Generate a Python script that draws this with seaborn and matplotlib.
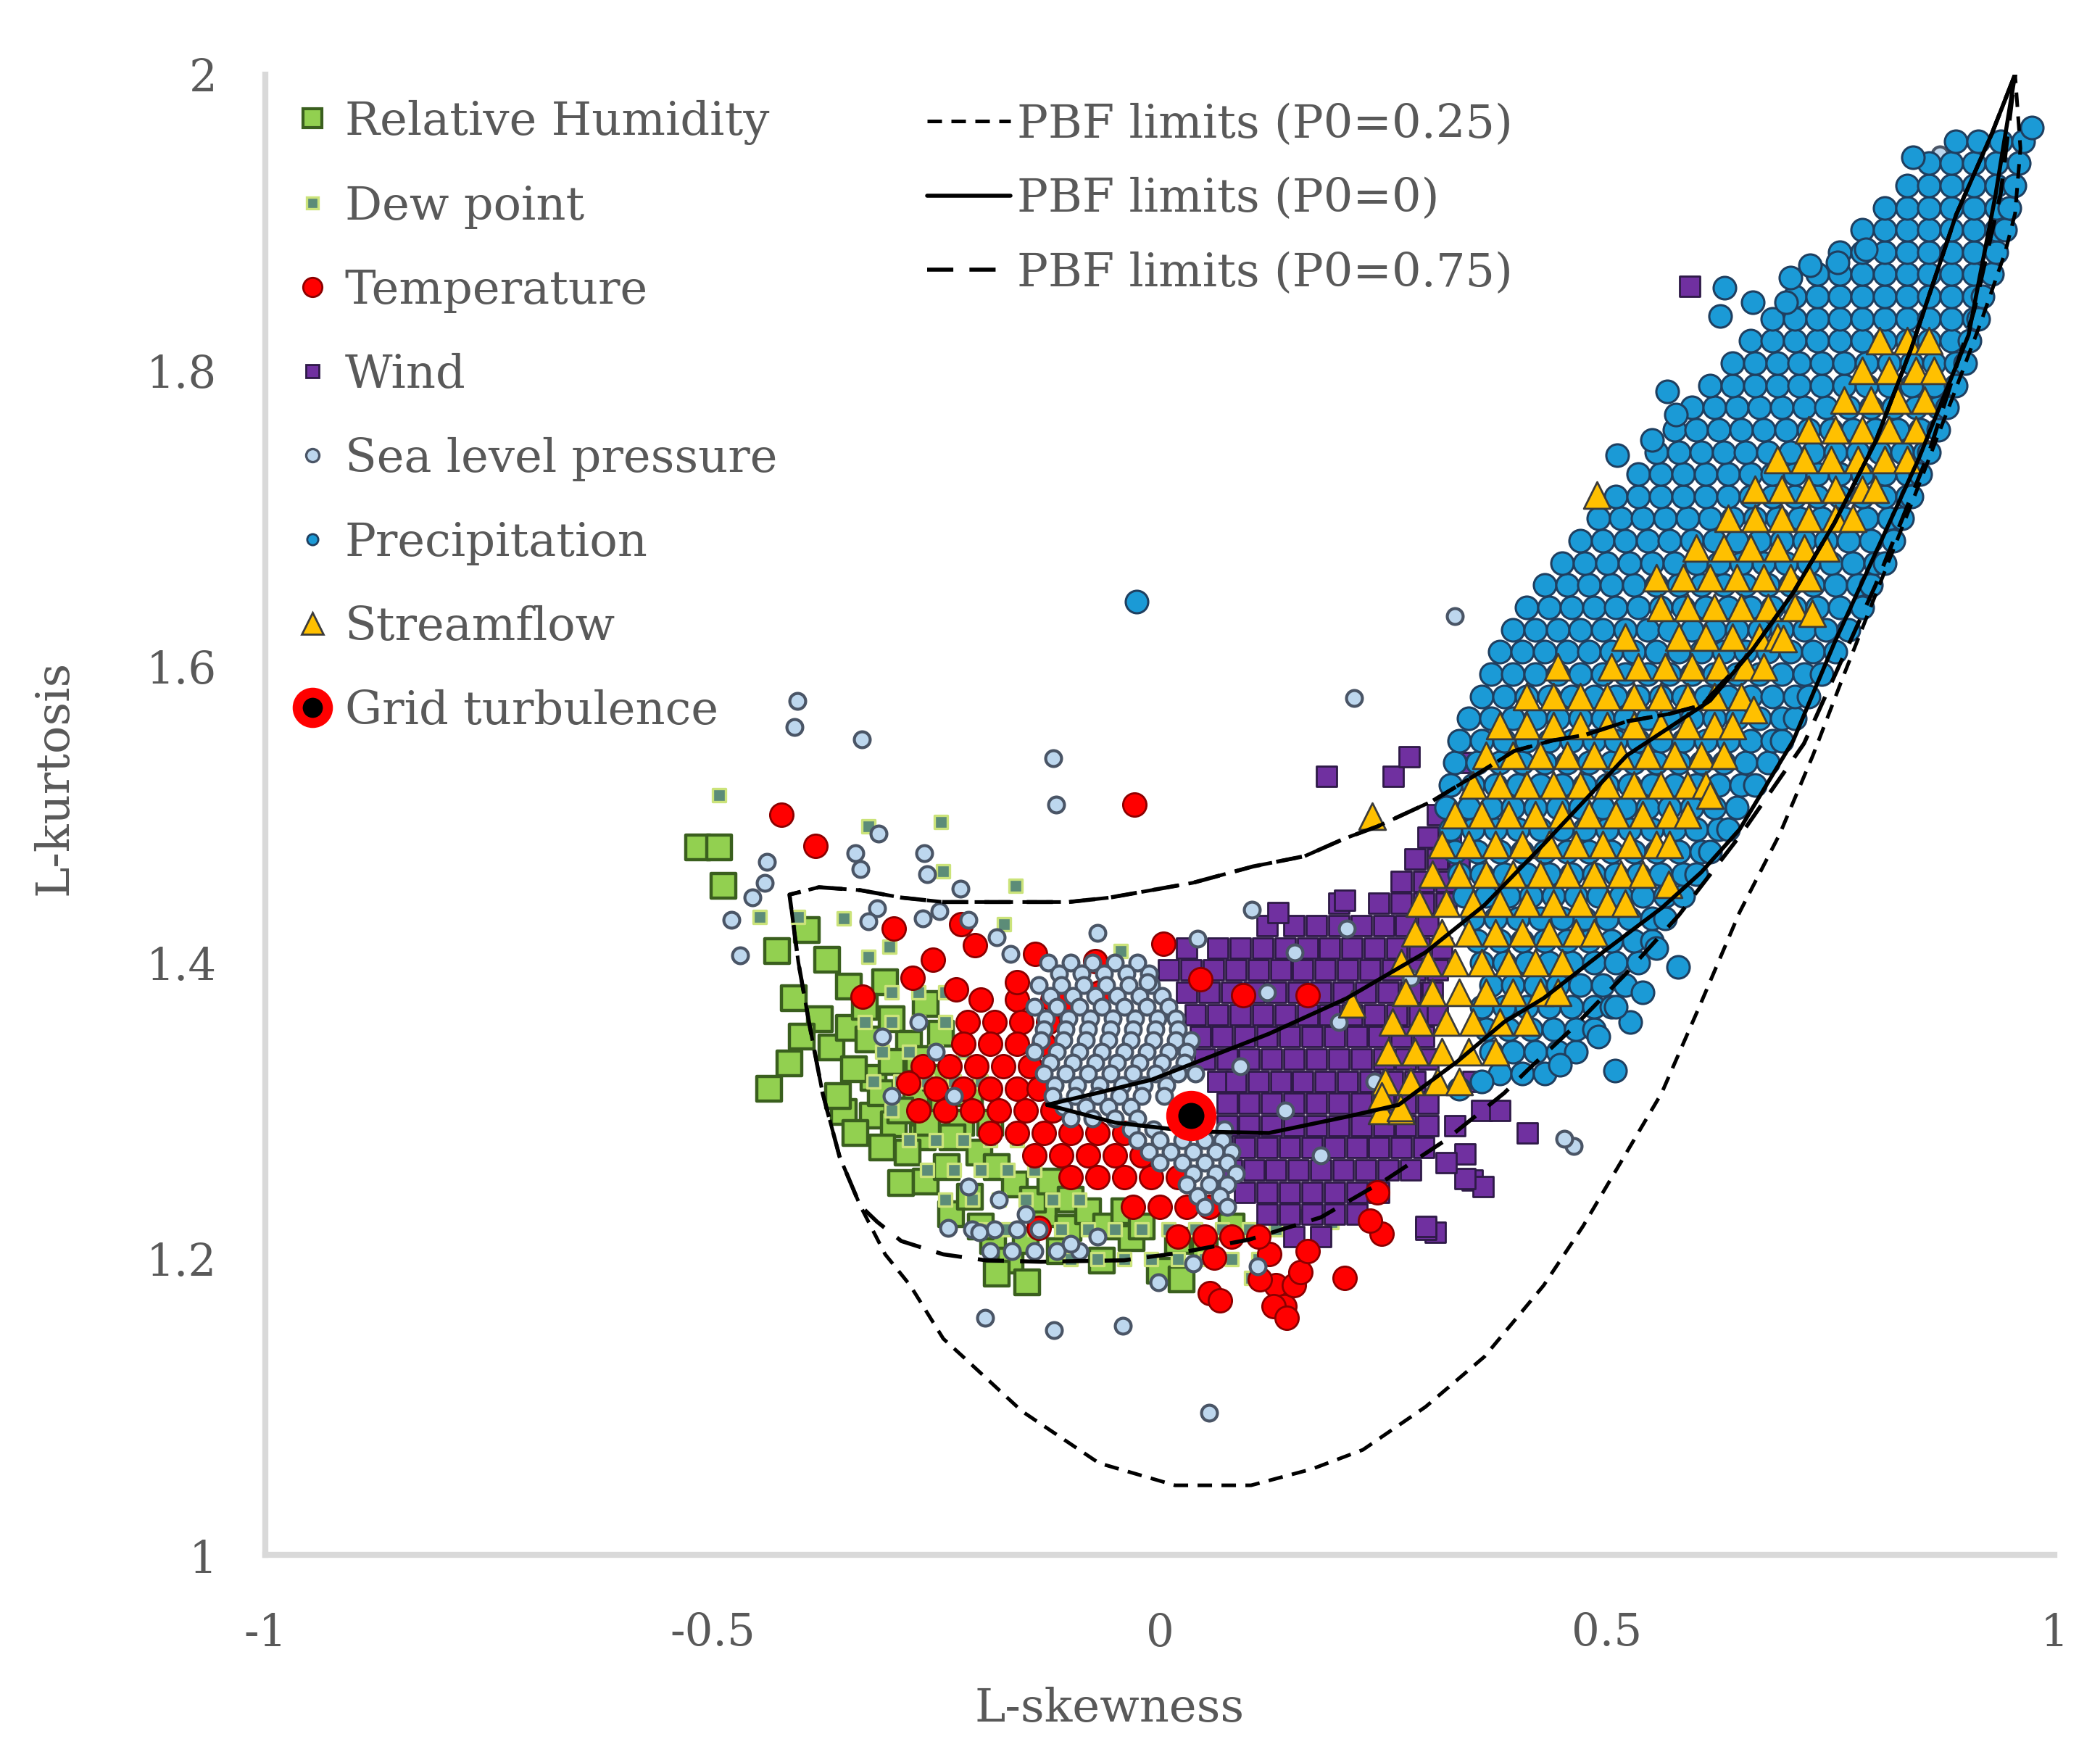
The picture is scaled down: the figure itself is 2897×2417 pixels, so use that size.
import matplotlib
matplotlib.use("Agg")
import matplotlib.pyplot as plt
from matplotlib.lines import Line2D
import seaborn as sns

# ---------------- data ----------------
x_ticks = [-1, -0.5, 0, 0.5, 1]
x_tick_labels = ["-1", "-0.5", "0", "0.5", "1"]
y_ticks = [1, 1.2, 1.4, 1.6, 1.8, 2]
y_tick_labels = ["1", "1.2", "1.4", "1.6", "1.8", "2"]

series_names = ["Relative Humidity", "Dew point", "Temperature", "Wind",
                "Sea level pressure", "Precipitation", "Streamflow", "Grid turbulence"]
line_names = ["PBF limits (P0=0.25)", "PBF limits (P0=0)", "PBF limits (P0=0.75)"]

rh_points = [(-0.516, 1.478), (-0.493, 1.478), (-0.488, 1.452), (-0.428, 1.408), (-0.395, 1.422),
             (-0.372, 1.402), (-0.409, 1.376), (-0.414, 1.332), (-0.437, 1.315), (-0.348, 1.384),
             (-0.307, 1.387), (-0.367, 1.343), (-0.348, 1.356), (-0.326, 1.348), (-0.30, 1.362),
             (-0.28, 1.345), (-0.262, 1.372), (-0.245, 1.352), (-0.38, 1.362), (-0.353, 1.299),
             (-0.321, 1.297), (-0.297, 1.291), (-0.265, 1.282), (-0.289, 1.251), (-0.262, 1.252),
             (-0.238, 1.262), (-0.233, 1.230), (-0.212, 1.242), (-0.186, 1.212), (-0.167, 1.199),
             (-0.182, 1.190), (-0.148, 1.184), (-0.13, 1.23), (-0.102, 1.221), (-0.065, 1.199),
             (-0.032, 1.214), (0.0, 1.192), (0.024, 1.186), (-0.32, 1.322), (-0.30, 1.333),
             (-0.342, 1.328), (-0.272, 1.312), (-0.25, 1.322), (-0.242, 1.302), (-0.222, 1.292),
             (-0.202, 1.272), (-0.182, 1.262), (-0.162, 1.25), (-0.142, 1.24), (-0.122, 1.252),
             (-0.10, 1.24), (-0.08, 1.232), (-0.06, 1.222), (-0.04, 1.232), (-0.02, 1.222),
             (0.02, 1.212), (0.05, 1.21), (0.08, 1.222), (-0.282, 1.272), (-0.26, 1.292),
             (-0.2, 1.222), (-0.15, 1.212), (-0.112, 1.205), (-0.312, 1.312), (-0.232, 1.282),
             (-0.212, 1.312), (-0.19, 1.292), (-0.40, 1.35), (-0.33, 1.37), (-0.29, 1.30),
             (-0.27, 1.335), (-0.36, 1.31), (-0.34, 1.285), (-0.31, 1.275)]

dew_rows = [(1.38, [-0.30, -0.27, -0.24]),
            (1.36, [-0.33, -0.30, -0.27, -0.24]),
            (1.34, [-0.31, -0.28, -0.25, -0.22]),
            (1.32, [-0.32, -0.29, -0.26, -0.23, -0.20]),
            (1.30, [-0.30, -0.27, -0.24, -0.21, -0.18]),
            (1.28, [-0.28, -0.25, -0.22, -0.19, -0.16]),
            (1.26, [-0.26, -0.23, -0.20, -0.17, -0.14]),
            (1.24, [-0.24, -0.21, -0.18, -0.15, -0.12, -0.09]),
            (1.22, [-0.20, -0.17, -0.14, -0.11, -0.08, -0.05, -0.02, 0.01, 0.04, 0.07, 0.10, 0.13]),
            (1.20, [-0.10, -0.07, -0.04, -0.01, 0.02, 0.05, 0.08, 0.11])]
dew_points = [(-0.493, 1.513), (-0.245, 1.495), (-0.326, 1.492), (-0.161, 1.452), (-0.242, 1.462),
              (-0.447, 1.431), (-0.353, 1.43), (-0.044, 1.408), (0.192, 1.225), (0.102, 1.187),
              (-0.404, 1.431), (-0.326, 1.404), (-0.302, 1.411), (-0.174, 1.426), (0.16, 1.23)]

temp_rows = [(1.375, [-0.20, -0.16, -0.12]),
             (1.36, [-0.215, -0.185, -0.155, -0.125]),
             (1.345, [-0.22, -0.19, -0.16, -0.13]),
             (1.33, [-0.265, -0.235, -0.205, -0.175, -0.145]),
             (1.315, [-0.25, -0.22, -0.19, -0.16, -0.135]),
             (1.30, [-0.27, -0.24, -0.21, -0.18, -0.15, -0.12]),
             (1.285, [-0.19, -0.16, -0.13, -0.10, -0.07, -0.04]),
             (1.27, [-0.14, -0.11, -0.08, -0.05, -0.02]),
             (1.255, [-0.10, -0.07, -0.04, -0.01, 0.02]),
             (1.235, [-0.03, 0.0, 0.03, 0.055]),
             (1.215, [0.02, 0.05, 0.08])]
temp_points = [(-0.423, 1.500), (-0.385, 1.479), (-0.028, 1.507), (0.004, 1.413), (-0.297, 1.423),
               (-0.222, 1.426), (-0.207, 1.412), (-0.139, 1.406), (-0.072, 1.401), (0.045, 1.389),
               (-0.332, 1.377), (-0.276, 1.390), (-0.254, 1.402), (-0.228, 1.382), (-0.160, 1.387),
               (-0.109, 1.372), (-0.067, 1.380), (-0.281, 1.319), (-0.135, 1.221), (0.061, 1.201),
               (0.056, 1.177), (0.122, 1.203), (0.130, 1.182), (0.139, 1.168), (0.067, 1.172),
               (0.112, 1.186), (0.127, 1.168), (0.142, 1.160), (0.15, 1.182), (0.157, 1.191),
               (0.165, 1.205), (0.207, 1.187), (0.248, 1.217), (0.11, 1.215), (0.165, 1.378),
               (0.093, 1.378), (0.243, 1.245), (0.235, 1.226)]

wind_rows = [(1.50, [0.31, 0.33]),
             (1.485, [0.30, 0.325]),
             (1.47, [0.285, 0.31, 0.335]),
             (1.455, [0.27, 0.295, 0.32]),
             (1.44, [0.20, 0.245, 0.27, 0.295, 0.32]),
             (1.425, [0.12, 0.15, 0.175, 0.20, 0.225, 0.25, 0.275, 0.30]),
             (1.41, [0.03, 0.065, 0.09, 0.115, 0.14, 0.165, 0.19, 0.215, 0.24, 0.265, 0.29, 0.315]),
             (1.395, [0.01, 0.035, 0.06, 0.085, 0.11, 0.135, 0.16, 0.185, 0.21, 0.235, 0.26, 0.285, 0.31]),
             (1.38, [0.03, 0.055, 0.08, 0.105, 0.13, 0.155, 0.18, 0.205, 0.23, 0.255, 0.28, 0.305]),
             (1.365, [0.04, 0.065, 0.09, 0.115, 0.14, 0.165, 0.19, 0.215, 0.24, 0.265, 0.29, 0.31]),
             (1.35, [0.045, 0.07, 0.095, 0.12, 0.145, 0.17, 0.195, 0.22, 0.245, 0.27, 0.295]),
             (1.335, [0.05, 0.075, 0.10, 0.125, 0.15, 0.175, 0.20, 0.225, 0.25, 0.275, 0.30]),
             (1.32, [0.065, 0.085, 0.11, 0.135, 0.16, 0.185, 0.21, 0.235, 0.26, 0.285]),
             (1.305, [0.075, 0.10, 0.125, 0.15, 0.175, 0.20, 0.225, 0.25, 0.275, 0.30]),
             (1.29, [0.075, 0.10, 0.125, 0.15, 0.175, 0.20, 0.225, 0.25, 0.275, 0.30]),
             (1.275, [0.07, 0.095, 0.12, 0.145, 0.17, 0.195, 0.22, 0.245, 0.27, 0.295]),
             (1.26, [0.08, 0.105, 0.13, 0.155, 0.18, 0.205, 0.23, 0.255, 0.28]),
             (1.245, [0.095, 0.12, 0.145, 0.17, 0.195, 0.22, 0.245]),
             (1.23, [0.12, 0.145, 0.17, 0.195, 0.22]),
             (1.215, [0.15, 0.18])]
wind_points = [(0.186, 1.526), (0.261, 1.526), (0.279, 1.539), (0.339, 1.535), (0.132, 1.434),
               (0.207, 1.442), (0.341, 1.271), (0.349, 1.253), (0.411, 1.285), (0.308, 1.218),
               (0.361, 1.249), (0.297, 1.22), (0.36, 1.30), (0.33, 1.29), (0.35, 1.32),
               (0.38, 1.30), (0.592, 1.857), (0.341, 1.254), (0.297, 1.222), (0.32, 1.265)]

slp_rows = [(1.40, [-0.125, -0.10, -0.075, -0.05, -0.025]),
            (1.3925, [-0.1125, -0.0875, -0.0625, -0.0375, -0.0125]),
            (1.385, [-0.135, -0.11, -0.085, -0.06, -0.035, -0.01]),
            (1.3775, [-0.1225, -0.0975, -0.0725, -0.0475, -0.0225, 0.0025]),
            (1.37, [-0.14, -0.115, -0.09, -0.065, -0.04, -0.015, 0.01]),
            (1.3625, [-0.1275, -0.1025, -0.0775, -0.0525, -0.0275, -0.0025, 0.0175]),
            (1.355, [-0.13, -0.105, -0.08, -0.055, -0.03, -0.005, 0.02]),
            (1.3475, [-0.1325, -0.1075, -0.0825, -0.0575, -0.0325, -0.0075, 0.0175, 0.035]),
            (1.34, [-0.14, -0.115, -0.09, -0.065, -0.04, -0.015, 0.01, 0.03]),
            (1.3325, [-0.1225, -0.0975, -0.0725, -0.0475, -0.0225, 0.0025, 0.0275]),
            (1.325, [-0.13, -0.105, -0.08, -0.055, -0.03, -0.005, 0.02, 0.04]),
            (1.3175, [-0.1175, -0.0925, -0.0675, -0.0425, -0.0175, 0.0075]),
            (1.31, [-0.12, -0.095, -0.07, -0.045, -0.02, 0.005]),
            (1.3025, [-0.1075, -0.0825, -0.0575, -0.0325]),
            (1.295, [-0.10, -0.075, -0.05, -0.025]),
            (1.2875, [-0.0325, -0.0075, 0.0725]),
            (1.28, [-0.025, 0.0, 0.025, 0.05, 0.07]),
            (1.2725, [-0.0125, 0.0125, 0.0375, 0.0625, 0.08]),
            (1.265, [0.0, 0.025, 0.05, 0.075]),
            (1.2575, [0.0375, 0.0625, 0.085]),
            (1.25, [0.03, 0.055, 0.075]),
            (1.2425, [0.0425, 0.0675]),
            (1.235, [0.05, 0.075]),
            (1.22, [-0.21, -0.185, -0.16, -0.135]),
            (1.205, [-0.19, -0.165, -0.14, -0.115, -0.09])]
slp_points = [(-0.314, 1.487), (-0.340, 1.474), (-0.335, 1.463), (-0.263, 1.474), (-0.260, 1.460),
              (-0.439, 1.468), (-0.442, 1.454), (-0.455, 1.444), (-0.479, 1.429), (-0.469, 1.405),
              (-0.316, 1.437), (-0.326, 1.428), (-0.265, 1.430), (-0.246, 1.435), (-0.223, 1.450),
              (-0.214, 1.429), (-0.182, 1.417), (-0.167, 1.406), (-0.070, 1.420), (0.103, 1.436),
              (0.042, 1.416), (0.151, 1.407), (-0.014, 1.387), (0.209, 1.423),
              (-0.195, 1.160), (-0.118, 1.152), (-0.041, 1.155), (0.055, 1.096),
              (-0.405, 1.577), (-0.408, 1.559), (-0.333, 1.551), (-0.119, 1.538), (-0.116, 1.507),
              (0.217, 1.579), (0.330, 1.634), (0.872, 1.946), (0.463, 1.276), (0.452, 1.281),
              (-0.237, 1.221), (-0.202, 1.218), (-0.214, 1.249), (-0.002, 1.184), (0.037, 1.197),
              (0.109, 1.195), (-0.18, 1.24), (-0.15, 1.23), (-0.10, 1.21), (-0.07, 1.215),
              (-0.31, 1.35), (-0.27, 1.36), (-0.30, 1.31), (-0.25, 1.34), (-0.23, 1.31),
              (0.09, 1.33), (0.14, 1.30), (0.20, 1.36), (0.24, 1.32), (0.12, 1.38), (0.28, 1.39),
              (0.18, 1.27)]

precip_rows = [(1.325, [0.38, 0.405, 0.43]),
               (1.34, [0.37, 0.395, 0.42, 0.445, 0.465]),
               (1.355, [0.365, 0.39, 0.415, 0.44, 0.465, 0.485]),
               (1.37, [0.36, 0.385, 0.41, 0.435, 0.46, 0.485, 0.505]),
               (1.385, [0.37, 0.395, 0.42, 0.445, 0.47, 0.495, 0.52]),
               (1.40, [0.36, 0.385, 0.41, 0.435, 0.46, 0.485, 0.51, 0.535]),
               (1.415, [0.355, 0.38, 0.405, 0.43, 0.455, 0.48, 0.505, 0.53, 0.55]),
               (1.43, [0.35, 0.375, 0.40, 0.425, 0.45, 0.475, 0.50, 0.525, 0.55, 0.565]),
               (1.445, [0.34, 0.365, 0.39, 0.415, 0.44, 0.465, 0.49, 0.515, 0.54, 0.565, 0.585]),
               (1.46, [0.335, 0.36, 0.385, 0.41, 0.435, 0.46, 0.485, 0.51, 0.535, 0.56, 0.585, 0.60]),
               (1.475, [0.33, 0.355, 0.38, 0.405, 0.43, 0.455, 0.48, 0.505, 0.53, 0.555, 0.58, 0.605, 0.615]),
               (1.49, [0.325, 0.35, 0.375, 0.40, 0.425, 0.45, 0.475, 0.50, 0.525, 0.55, 0.575, 0.60, 0.625, 0.635]),
               (1.505, [0.32, 0.345, 0.37, 0.395, 0.42, 0.445, 0.47, 0.495, 0.52, 0.545, 0.57, 0.595, 0.62, 0.645]),
               (1.52, [0.325, 0.35, 0.375, 0.40, 0.425, 0.45, 0.475, 0.50, 0.525, 0.55, 0.575, 0.60, 0.625, 0.65, 0.665]),
               (1.535, [0.33, 0.355, 0.38, 0.405, 0.43, 0.455, 0.48, 0.505, 0.53, 0.555, 0.58, 0.605, 0.63, 0.655, 0.68]),
               (1.55, [0.335, 0.36, 0.385, 0.41, 0.435, 0.46, 0.485, 0.51, 0.535, 0.56, 0.585, 0.61, 0.635, 0.66, 0.685, 0.695]),
               (1.565, [0.345, 0.37, 0.395, 0.42, 0.445, 0.47, 0.495, 0.52, 0.545, 0.57, 0.595, 0.62, 0.645, 0.67, 0.695, 0.71]),
               (1.58, [0.36, 0.385, 0.41, 0.435, 0.46, 0.485, 0.51, 0.535, 0.56, 0.585, 0.61, 0.635, 0.66, 0.685, 0.71, 0.725]),
               (1.595, [0.37, 0.395, 0.42, 0.445, 0.47, 0.495, 0.52, 0.545, 0.57, 0.595, 0.62, 0.645, 0.67, 0.695, 0.72, 0.74]),
               (1.61, [0.38, 0.405, 0.43, 0.455, 0.48, 0.505, 0.53, 0.555, 0.58, 0.605, 0.63, 0.655, 0.68, 0.705, 0.73, 0.755]),
               (1.625, [0.395, 0.42, 0.445, 0.47, 0.495, 0.52, 0.545, 0.57, 0.595, 0.62, 0.645, 0.67, 0.695, 0.72, 0.745, 0.77]),
               (1.64, [0.41, 0.435, 0.46, 0.485, 0.51, 0.535, 0.56, 0.585, 0.61, 0.635, 0.66, 0.685, 0.71, 0.735, 0.76, 0.785]),
               (1.655, [0.43, 0.455, 0.48, 0.505, 0.53, 0.555, 0.58, 0.605, 0.63, 0.655, 0.68, 0.705, 0.73, 0.755, 0.78, 0.795]),
               (1.67, [0.45, 0.475, 0.50, 0.525, 0.55, 0.575, 0.60, 0.625, 0.65, 0.675, 0.70, 0.725, 0.75, 0.775, 0.80, 0.81]),
               (1.685, [0.47, 0.495, 0.52, 0.545, 0.57, 0.595, 0.62, 0.645, 0.67, 0.695, 0.72, 0.745, 0.77, 0.795, 0.82]),
               (1.70, [0.49, 0.515, 0.54, 0.565, 0.59, 0.615, 0.64, 0.665, 0.69, 0.715, 0.74, 0.765, 0.79, 0.815, 0.83]),
               (1.715, [0.51, 0.535, 0.56, 0.585, 0.61, 0.635, 0.66, 0.685, 0.71, 0.735, 0.76, 0.785, 0.81, 0.835, 0.84]),
               (1.73, [0.535, 0.56, 0.585, 0.61, 0.635, 0.66, 0.685, 0.71, 0.735, 0.76, 0.785, 0.81, 0.835, 0.85]),
               (1.745, [0.555, 0.58, 0.605, 0.63, 0.655, 0.68, 0.705, 0.73, 0.755, 0.78, 0.805, 0.83, 0.855, 0.86]),
               (1.76, [0.575, 0.60, 0.625, 0.65, 0.675, 0.70, 0.725, 0.75, 0.775, 0.80, 0.825, 0.85, 0.87]),
               (1.775, [0.595, 0.62, 0.645, 0.67, 0.695, 0.72, 0.745, 0.77, 0.795, 0.82, 0.845, 0.87, 0.88]),
               (1.79, [0.615, 0.64, 0.665, 0.69, 0.715, 0.74, 0.765, 0.79, 0.815, 0.84, 0.865, 0.89]),
               (1.805, [0.64, 0.665, 0.69, 0.715, 0.74, 0.765, 0.79, 0.815, 0.84, 0.865, 0.89, 0.90]),
               (1.82, [0.66, 0.685, 0.71, 0.735, 0.76, 0.785, 0.81, 0.835, 0.86, 0.885, 0.905]),
               (1.835, [0.685, 0.71, 0.735, 0.76, 0.785, 0.81, 0.835, 0.86, 0.885, 0.91, 0.915]),
               (1.85, [0.71, 0.735, 0.76, 0.785, 0.81, 0.835, 0.86, 0.885, 0.91, 0.92]),
               (1.865, [0.735, 0.76, 0.785, 0.81, 0.835, 0.86, 0.885, 0.91, 0.93]),
               (1.88, [0.76, 0.785, 0.81, 0.835, 0.86, 0.885, 0.91, 0.935]),
               (1.895, [0.785, 0.81, 0.835, 0.86, 0.885, 0.91, 0.935, 0.945]),
               (1.91, [0.81, 0.835, 0.86, 0.885, 0.91, 0.935, 0.95]),
               (1.925, [0.835, 0.86, 0.885, 0.91, 0.935, 0.955]),
               (1.94, [0.86, 0.885, 0.91, 0.935, 0.96]),
               (1.955, [0.89, 0.915, 0.94, 0.965])]
precip_points = [(-0.026, 1.644), (0.842, 1.944), (0.631, 1.856), (0.663, 1.846), (0.626, 1.837),
                 (0.700, 1.846), (0.705, 1.863), (0.727, 1.871), (0.758, 1.873), (0.789, 1.882),
                 (0.567, 1.786), (0.511, 1.743), (0.550, 1.753), (0.577, 1.770), (0.509, 1.327),
                 (0.975, 1.964), (0.335, 1.315), (0.36, 1.32), (0.447, 1.331), (0.526, 1.36),
                 (0.54, 1.38), (0.579, 1.397), (0.49, 1.35), (0.51, 1.37), (0.555, 1.41)]

stream_rows = [(1.30, [0.248, 0.27]),
               (1.32, [0.252, 0.28, 0.31, 0.335]),
               (1.34, [0.255, 0.285, 0.315, 0.345, 0.375]),
               (1.36, [0.26, 0.29, 0.32, 0.35, 0.38, 0.41]),
               (1.38, [0.275, 0.305, 0.335, 0.365, 0.395, 0.425, 0.445]),
               (1.40, [0.27, 0.30, 0.33, 0.36, 0.39, 0.42, 0.45]),
               (1.42, [0.285, 0.315, 0.345, 0.375, 0.405, 0.435, 0.465, 0.485]),
               (1.44, [0.29, 0.32, 0.35, 0.38, 0.41, 0.44, 0.47, 0.50, 0.52]),
               (1.46, [0.305, 0.335, 0.365, 0.395, 0.425, 0.455, 0.485, 0.515, 0.54]),
               (1.48, [0.315, 0.345, 0.375, 0.405, 0.435, 0.465, 0.495, 0.525, 0.555, 0.57]),
               (1.50, [0.33, 0.36, 0.39, 0.42, 0.45, 0.48, 0.51, 0.54, 0.57, 0.59]),
               (1.52, [0.35, 0.38, 0.41, 0.44, 0.47, 0.50, 0.53, 0.56, 0.59, 0.61]),
               (1.54, [0.365, 0.395, 0.425, 0.455, 0.485, 0.515, 0.545, 0.575, 0.605, 0.63]),
               (1.56, [0.38, 0.41, 0.44, 0.47, 0.50, 0.53, 0.56, 0.59, 0.62, 0.64]),
               (1.58, [0.41, 0.44, 0.47, 0.50, 0.53, 0.56, 0.59, 0.62, 0.65]),
               (1.60, [0.445, 0.505, 0.535, 0.565, 0.595, 0.625, 0.655, 0.675]),
               (1.62, [0.52, 0.58, 0.61, 0.64, 0.67, 0.69]),
               (1.64, [0.56, 0.59, 0.62, 0.65, 0.68, 0.71]),
               (1.66, [0.555, 0.585, 0.615, 0.645, 0.675, 0.705, 0.725]),
               (1.68, [0.60, 0.63, 0.66, 0.69, 0.72, 0.745]),
               (1.70, [0.635, 0.665, 0.695, 0.725, 0.755, 0.775]),
               (1.72, [0.665, 0.695, 0.725, 0.755, 0.785, 0.80]),
               (1.74, [0.69, 0.72, 0.75, 0.78, 0.81, 0.835]),
               (1.76, [0.725, 0.755, 0.785, 0.815, 0.845]),
               (1.78, [0.765, 0.795, 0.825, 0.855]),
               (1.80, [0.785, 0.815, 0.845, 0.865]),
               (1.82, [0.805, 0.835, 0.86])]
stream_points = [(0.489, 1.716), (0.237, 1.499), (0.215, 1.372), (0.729, 1.636), (0.697, 1.619),
                 (0.664, 1.571), (0.569, 1.453), (0.615, 1.513), (0.248, 1.31), (0.269, 1.302)]

grid_points = [(0.035, 1.297)]

p025_curve = [(0.956, 2.0), (0.93, 1.96), (0.89, 1.905), (0.84, 1.815), (0.80, 1.752), (0.754, 1.697),
              (0.708, 1.650), (0.662, 1.611), (0.606, 1.574), (0.569, 1.568), (0.522, 1.563),
              (0.476, 1.554), (0.438, 1.550), (0.396, 1.543), (0.359, 1.529), (0.304, 1.509),
              (0.243, 1.492), (0.207, 1.484), (0.162, 1.472), (0.104, 1.465), (0.037, 1.454),
              (0.0, 1.450), (-0.056, 1.444), (-0.102, 1.441), (-0.195, 1.441), (-0.242, 1.441),
              (-0.289, 1.444), (-0.335, 1.449), (-0.381, 1.451), (-0.414, 1.446), (-0.404, 1.400),
              (-0.391, 1.356), (-0.377, 1.312), (-0.358, 1.269), (-0.335, 1.236), (-0.307, 1.203),
              (-0.279, 1.182), (-0.242, 1.146), (-0.222, 1.135), (-0.154, 1.097), (-0.068, 1.062),
              (0.017, 1.047), (0.102, 1.047), (0.17, 1.058), (0.227, 1.071), (0.297, 1.100),
              (0.363, 1.134), (0.429, 1.182), (0.473, 1.222), (0.517, 1.267), (0.561, 1.312),
              (0.605, 1.373), (0.648, 1.434), (0.693, 1.487), (0.73, 1.54), (0.765, 1.595),
              (0.801, 1.650), (0.848, 1.722), (0.885, 1.78), (0.918, 1.833), (0.945, 1.88),
              (0.956, 1.906), (0.962, 1.95), (0.956, 2.0)]

p0_curve = [(-0.126, 1.304), (-0.07, 1.312), (-0.009, 1.321), (0.05, 1.335), (0.122, 1.352),
            (0.209, 1.376), (0.297, 1.407), (0.363, 1.439), (0.429, 1.48), (0.522, 1.540),
            (0.615, 1.577), (0.662, 1.611), (0.708, 1.650), (0.754, 1.697), (0.80, 1.752),
            (0.84, 1.815), (0.89, 1.905), (0.93, 1.96), (0.956, 2.0), (0.934, 1.918),
            (0.904, 1.824), (0.848, 1.740), (0.801, 1.678), (0.754, 1.616), (0.708, 1.55),
            (0.648, 1.490), (0.605, 1.461), (0.561, 1.437), (0.495, 1.407), (0.429, 1.376),
            (0.385, 1.360), (0.332, 1.333), (0.267, 1.304), (0.209, 1.296), (0.122, 1.285),
            (0.037, 1.286), (-0.05, 1.292), (-0.126, 1.304)]

p075_curve = [(0.956, 2.0), (0.93, 1.96), (0.89, 1.905), (0.84, 1.815), (0.80, 1.752), (0.754, 1.697),
              (0.708, 1.650), (0.662, 1.611), (0.606, 1.574), (0.569, 1.568), (0.522, 1.563),
              (0.476, 1.554), (0.438, 1.550), (0.396, 1.543), (0.359, 1.529), (0.304, 1.509),
              (0.243, 1.492), (0.207, 1.484), (0.162, 1.472), (0.104, 1.465), (0.037, 1.454),
              (0.0, 1.450), (-0.056, 1.444), (-0.102, 1.441), (-0.195, 1.441), (-0.242, 1.441),
              (-0.289, 1.444), (-0.335, 1.449), (-0.381, 1.451), (-0.414, 1.446), (-0.404, 1.400),
              (-0.391, 1.356), (-0.377, 1.312), (-0.358, 1.269), (-0.335, 1.236), (-0.316, 1.225),
              (-0.289, 1.212), (-0.242, 1.203), (-0.195, 1.199), (-0.133, 1.198), (-0.04, 1.199),
              (0.022, 1.204), (0.10, 1.213), (0.18, 1.228), (0.254, 1.254), (0.319, 1.280),
              (0.385, 1.312), (0.412, 1.328), (0.46, 1.355), (0.52, 1.392), (0.58, 1.432),
              (0.65, 1.487), (0.72, 1.548), (0.80, 1.655), (0.86, 1.745), (0.91, 1.84),
              (0.94, 1.92), (0.956, 2.0)]


def expand(rows, extra):
    pts = [(x, y) for y, xs in rows for x in xs]
    return pts + list(extra)


# ---------------- styling ----------------
sns.set_style("white")
plt.rcParams["font.family"] = ["DejaVu Serif"]
text_gray = "#595959"

fig = plt.figure(figsize=(2897 / 200, 2417 / 200), dpi=200)
ax = fig.add_axes([0.1263, 0.1125, 0.852, 0.845])

styles = {
    "Relative Humidity": dict(marker="s", s=150, color="#92D050", edgecolor="#3A5F1E", linewidth=1.6, zorder=2),
    "Dew point": dict(marker="s", s=40, color="#5C8C78", edgecolor="#CBE37A", linewidth=1.2, zorder=3),
    "Wind": dict(marker="s", s=100, color="#7030A0", edgecolor="#2E1A47", linewidth=1.0, zorder=4),
    "Temperature": dict(marker="o", s=135, color="#FF0000", edgecolor="#8B0000", linewidth=1.0, zorder=5),
    "Sea level pressure": dict(marker="o", s=62, color="#BDD7EE", edgecolor="#4A5566", linewidth=1.5, zorder=6),
    "Precipitation": dict(marker="o", s=125, color="#1B9AD6", edgecolor="#1F3F60", linewidth=1.1, zorder=7),
    "Streamflow": dict(marker="^", s=175, color="#FFC000", edgecolor="#3B3B3B", linewidth=1.0, zorder=8),
    "Grid turbulence": dict(marker="o", s=360, color="black", edgecolor="#FF0000", linewidth=6, zorder=12),
}

data = {
    "Relative Humidity": rh_points,
    "Dew point": expand(dew_rows, dew_points),
    "Wind": expand(wind_rows, wind_points),
    "Temperature": expand(temp_rows, temp_points),
    "Sea level pressure": expand(slp_rows, slp_points),
    "Precipitation": expand(precip_rows, precip_points),
    "Streamflow": expand(stream_rows, stream_points),
    "Grid turbulence": grid_points,
}

for name in ["Relative Humidity", "Dew point", "Wind", "Temperature", "Sea level pressure",
             "Precipitation", "Streamflow", "Grid turbulence"]:
    pts = data[name]
    st = styles[name]
    sns.scatterplot(x=[p[0] for p in pts], y=[p[1] for p in pts], ax=ax, legend=False, **st)

line_styles = {
    "PBF limits (P0=0.25)": dict(lw=1.8, linestyle=(0, (4.0, 2.6))),
    "PBF limits (P0=0)": dict(lw=2.0, linestyle="-"),
    "PBF limits (P0=0.75)": dict(lw=2.0, linestyle=(0, (6.5, 4.0))),
}
curves = {"PBF limits (P0=0.25)": p025_curve, "PBF limits (P0=0)": p0_curve,
          "PBF limits (P0=0.75)": p075_curve}
for name in line_names:
    c = curves[name]
    sns.lineplot(x=[p[0] for p in c], y=[p[1] for p in c], sort=False, estimator=None,
                 color="black", ax=ax, legend=False, zorder=10, **line_styles[name])

ax.set_xlim(-1, 1)
ax.set_ylim(1, 2)
ax.set_xticks(x_ticks)
ax.set_xticklabels(x_tick_labels)
ax.set_yticks(y_ticks)
ax.set_yticklabels(y_tick_labels)
ax.tick_params(axis="x", length=0, pad=28, labelsize=22, labelcolor=text_gray)
ax.tick_params(axis="y", length=0, pad=24, labelsize=22, labelcolor=text_gray)
for side in ["top", "right"]:
    ax.spines[side].set_visible(False)
for side in ["left", "bottom"]:
    ax.spines[side].set_color("#D9D9D9")
    ax.spines[side].set_linewidth(3)
ax.grid(False)

ax.set_xlabel("L-skewness", fontsize=23, color=text_gray)
ax.set_ylabel("L-kurtosis", fontsize=23, color=text_gray)
ax.xaxis.set_label_coords(0.472, -0.104)
ax.xaxis.label.set_va("center")
ax.yaxis.set_label_coords(-0.118, 0.525)
ax.yaxis.label.set_va("center")

# legends
leg_handle_styles = {
    "Relative Humidity": dict(marker="s", ms=9.5, mfc="#92D050", mec="#3A5F1E", mew=1.5),
    "Dew point": dict(marker="s", ms=5.5, mfc="#5C8C78", mec="#CBE37A", mew=1.2),
    "Temperature": dict(marker="o", ms=9.5, mfc="#FF0000", mec="#8B0000", mew=1.0),
    "Wind": dict(marker="s", ms=6.5, mfc="#7030A0", mec="#2E1A47", mew=1.0),
    "Sea level pressure": dict(marker="o", ms=6.5, mfc="#BDD7EE", mec="#4A5566", mew=1.2),
    "Precipitation": dict(marker="o", ms=5.5, mfc="#1B9AD6", mec="#1F3F60", mew=1.0),
    "Streamflow": dict(marker="^", ms=10.5, mfc="#FFC000", mec="#3B3B3B", mew=1.0),
    "Grid turbulence": dict(marker="o", ms=15, mfc="black", mec="#FF0000", mew=5),
}
h1 = [Line2D([], [], linestyle="none", **leg_handle_styles[n]) for n in series_names]
leg1 = ax.legend(h1, series_names, loc="upper left", bbox_to_anchor=(0.0134, 0.983),
                 frameon=False, fontsize=23, handlelength=1.0, handletextpad=0.2,
                 labelspacing=0.86, borderpad=0, borderaxespad=0, labelcolor=text_gray)
ax.add_artist(leg1)
h2 = [Line2D([], [], color="black", **line_styles[n]) for n in line_names]
leg2 = ax.legend(h2, line_names, loc="upper left", bbox_to_anchor=(0.370, 0.981),
                 frameon=False, fontsize=23, handlelength=1.8, handletextpad=0.14,
                 labelspacing=0.65, borderpad=0, borderaxespad=0, labelcolor=text_gray)

fig.savefig("out.png", dpi=200)
